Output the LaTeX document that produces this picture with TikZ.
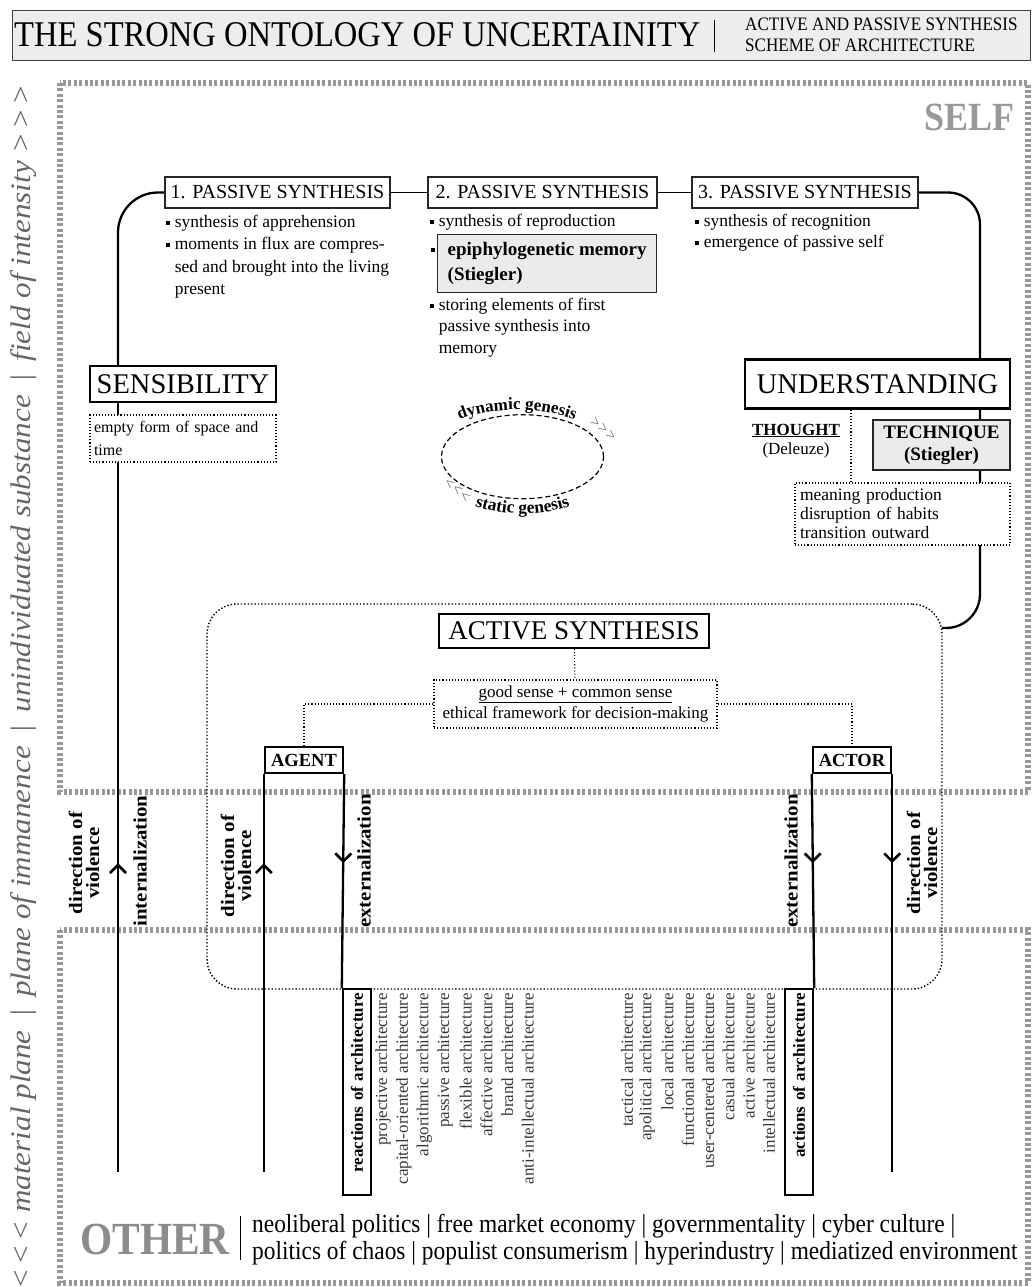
\documentclass[tikz,border=0pt]{standalone}
\usepackage{fontspec}
\setmainfont{Liberation Serif}
\newfontfamily\narrowserif{Liberation Serif}[FakeStretch=0.9]
\newfontfamily\tallserif{Liberation Serif}[FakeStretch=1.1]
\usetikzlibrary{arrows.meta,decorations.markings,decorations.text,calc,shapes.geometric}
\newcommand\fsz[2]{\fontsize{#1pt}{#2pt}\selectfont}
\newcommand\blt{\rule[0.12em]{0.24em}{0.24em}\hspace{0.25em}}
\newcommand\bltgap{\hspace*{0.49em}}
\pgfdeclarelayer{frames}
\pgfdeclarelayer{links}
\pgfsetlayers{frames,links,main}

\begin{document}
\begin{tikzpicture}[x=1pt,y=-1pt,
  frameline/.style={draw=black!40, line width=6pt, dash pattern=on 3pt off 2.4pt},
  psbox/.style={draw=black!85, line width=1.1pt, minimum height=31pt, inner sep=2pt, font=\fsz{20}{22}},
  bigbox/.style={draw, line width=2.4pt, inner sep=2pt, font=\fsz{28.5}{30}},
  graybox/.style={draw=black!85, line width=1.3pt, fill=black!8},
  dotbox/.style={draw, dotted, line width=1.1pt, fill=white},
  dotlink/.style={dotted, line width=1.1pt},
  link/.style={line width=2.3pt},
  bulletlist/.style={anchor=north west, inner sep=0pt, align=left, font=\fsz{17.5}{22.5}},
  tabbox/.style={draw, line width=2.4pt, minimum width=78pt, minimum height=26pt, inner sep=0pt, font=\bfseries\fsz{18.5}{20}},
  listbox/.style={draw, line width=2.4pt, rotate=90, minimum width=206pt, minimum height=28pt, inner sep=3pt, text width=198pt, align=right, font=\bfseries\fsz{17}{17}},
  archlabel/.style={rotate=90, anchor=east, inner sep=0pt, font=\fsz{17}{17}, text=black!78},
  bandlabel/.style={rotate=90, inner sep=0pt, align=center, font=\tallserif\bfseries\fsz{19}{17}},
  uparrow/.style={postaction={decorate, decoration={markings, mark=at position #1 with {\arrowreversed{Straight Barb[length=8pt,width=16pt,line width=2.6pt]}}}}},
  downarrow/.style={postaction={decorate, decoration={markings, mark=at position #1 with {\arrow{Straight Barb[length=8pt,width=16pt,line width=2.6pt]}}}}}
]
\useasboundingbox (0,0) rectangle (1032,1287);

% ---------- header ----------
\node[draw=black!75, line width=1.4pt, fill=black!7, minimum width=1018pt, minimum height=50pt, inner sep=0pt, anchor=north west] (header) at (12,10) {};
\node[anchor=base west, inner sep=0pt, font=\narrowserif\fsz{36.2}{36}] (title) at (14,47) {THE STRONG ONTOLOGY OF UNCERTAINITY};
\draw[line width=1pt] (714,20) -- (714,52);
\node[anchor=west, inner sep=0pt, align=left, font=\narrowserif\fsz{19}{20.5}] (subtitle) at (745,35) {ACTIVE AND PASSIVE SYNTHESIS\\SCHEME OF ARCHITECTURE};

% ---------- side axis ----------
\node[rotate=90, anchor=east, inner sep=0pt, font=\tallserif\itshape\fsz{28.3}{28}, text=black!60] (axis) at (24,84)
  {<\kern3pt<\kern3pt< material plane \,|\, plane of immanence \,|\, unindividuated substance \,|\, field of intensity >\kern3pt>\kern3pt>};

% ---------- planes ----------
\begin{pgfonlayer}{frames}
\draw[frameline] (60,83) rectangle (1028,792);
\draw[frameline] (60,930) rectangle (1028,1283);
\end{pgfonlayer}
\node[anchor=base east, inner sep=0pt, font=\narrowserif\bfseries\fsz{40}{40}, text=black!40] (self) at (1015,131) {SELF};
\node[anchor=base west, inner sep=0pt, font=\narrowserif\bfseries\fsz{46}{46}, text=black!45] (other) at (80,1254) {OTHER};
\draw[line width=0.9pt] (240,1216) -- (240,1260);
\node[anchor=west, inner sep=0pt, align=left, font=\narrowserif\fsz{26}{27}] (othertext) at (252,1240)
  {neoliberal politics | free market economy | governmentality | cyber culture |\\politics of chaos | populist consumerism | hyperindustry | mediatized environment};

% ---------- passive syntheses ----------
\node[psbox, minimum width=225pt] (ps1) at (277.5,192.5) {1. PASSIVE SYNTHESIS};
\node[psbox, minimum width=229pt] (ps2) at (542.5,192.5) {2. PASSIVE SYNTHESIS};
\node[psbox, minimum width=226pt] (ps3) at (805,192.5) {3. PASSIVE SYNTHESIS};

\node[bulletlist] (b1) at (166,214.5) {\blt synthesis of apprehension\\ \blt moments in flux are compres-\\ \bltgap sed and brought into the living\\ \bltgap present};
\node[bulletlist] (b2a) at (430,213.5) {\blt synthesis of reproduction};
\node[graybox, minimum width=219pt, minimum height=58pt, inner sep=0pt, anchor=north west, align=left, font=\bfseries\fsz{19}{25}] (epi) at (437,234) {epiphylogenetic memory\\(Stiegler)};
\node[inner sep=0pt, anchor=base west, font=\fsz{17.5}{17.5}] (epibullet) at (430.5,254) {\blt};
\node[bulletlist, font=\fsz{17.5}{21.5}] (b2b) at (430,297.5) {\blt storing elements of first\\ \bltgap passive synthesis into\\ \bltgap memory};
\node[bulletlist, font=\fsz{17.5}{21.5}] (b3) at (695,213.5) {\blt synthesis of recognition\\ \blt emergence of passive self};

% ---------- sensibility / understanding ----------
\node[bigbox, minimum width=186pt, minimum height=36pt] (sens) at (183,384) {SENSIBILITY};
\node[dotbox, minimum width=186pt, minimum height=47pt, inner sep=3pt, text width=178pt, align=left, font=\fsz{16}{23}] (space) at (183,438.5) {empty form of space and\\time};

\node[bigbox, minimum width=265pt, minimum height=49pt] (und) at (877.5,384) {UNDERSTANDING};
\node[inner sep=0pt, align=center, font=\fsz{17}{19.5}] (thought) at (796,441) {\textbf{\underline{THOUGHT}}\\(Deleuze)};
\node[graybox, minimum width=137pt, minimum height=50pt, inner sep=0pt, align=center, font=\bfseries\fsz{19}{22}] (tech) at (941.5,445) {TECHNIQUE\\(Stiegler)};
\node[dotbox, minimum width=215pt, minimum height=62pt, inner sep=5pt, text width=205pt, align=left, font=\fsz{17.5}{19}] (meaning) at (902.5,514) {meaning production\\disruption of habits\\transition outward};

% ---------- genesis cycle ----------
\node[draw, ellipse, dash pattern=on 5pt off 3pt, line width=1.2pt, minimum width=162pt, minimum height=84pt, inner sep=0pt] (genesis) at (522.5,456.7) {};
\path[decorate, decoration={text along path, text align=center, text={|\bfseries\fsz{17}{17}|dynamic genesis}}]
  (517,456.7) ++(212:92 and 47) arc[start angle=212, end angle=328, x radius=92, y radius=47];
\path[decorate, decoration={text along path, text align=center, text={|\bfseries\fsz{17.5}{17.5}|static genesis}}]
  (522.5,456.7) ++(145:95 and 57) arc[start angle=145, end angle=35, x radius=95, y radius=57];
\node[rotate=-40, inner sep=0pt, font=\fsz{16}{16}, text=black!60] (dynarrows) at (603,429) {>\kern1pt>\kern1pt>};
\node[rotate=-40, inner sep=0pt, font=\fsz{16}{16}, text=black!60] (statarrows) at (457,490) {<\kern1pt<\kern1pt<};

% ---------- active synthesis ----------
\node[draw, dotted, line width=1.4pt, rounded corners=30pt, minimum width=735pt, minimum height=385pt, inner sep=0pt] (actframe) at (574.5,796.5) {};
\node[draw, line width=1.4pt, fill=white, minimum width=270pt, minimum height=34pt, inner sep=0pt, font=\fsz{27}{28}] (active) at (574,631) {ACTIVE SYNTHESIS};
\node[dotbox, minimum width=283pt, minimum height=48pt, inner sep=0pt, align=center, font=\fsz{17}{21}] (sense) at (575.5,704) {\underline{good sense + common sense}\\ethical framework for decision-making};
\node[tabbox, fill=white] (agent) at (304,760) {AGENT};
\node[tabbox, fill=white] (actor) at (852,760) {ACTOR};

% ---------- band labels ----------
\node[bandlabel] (dv1) at (84,863) {direction of\\violence};
\node[bandlabel] (int) at (140,861) {internalization};
\node[bandlabel] (dv2) at (236,866) {direction of\\violence};
\node[bandlabel] (ext1) at (364,861) {externalization};
\node[bandlabel] (ext2) at (791,861) {externalization};
\node[bandlabel] (dv3) at (922,863) {direction of\\violence};

% ---------- architecture lists ----------
\node[listbox] (reactions) at (357,1092) {reactions of architecture};
\node[listbox] (actions) at (799,1092) {actions of architecture};
\foreach \t [count=\i] in {projective architecture, capital-oriented architecture, algorithmic architecture, passive architecture, flexible architecture, affective architecture, brand architecture, anti-intellectual architecture}
  \node[archlabel] (ra\i) at ({383+20.7*(\i-1)},993) {\t};
\foreach \t [count=\i] in {tactical architecture, apolitical architecture, local architecture, functional architecture, user-centered architecture, casual architecture, active architecture, intellectual architecture}
  \node[archlabel] (aa\i) at ({627+20.3*(\i-1)},993) {\t};

% ---------- connectors ----------
\begin{pgfonlayer}{links}
\coordinate (lcorner) at (118,192.5);
\coordinate (rcorner) at (980,192.5);
\coordinate (rjoin) at (942,628);
\coordinate (lend) at (0,1172);
\coordinate (dline) at (851,0);
\draw[link, line width=1.8pt] (ps1) -- (ps2);
\draw[link, line width=1.8pt] (ps2) -- (ps3);
\draw[link, rounded corners=40pt] (ps1.west) -- (lcorner) -- (lcorner |- sens.north);
\draw[link, rounded corners=32pt] (ps3.east) -- (rcorner) -- (rcorner |- und.north);
\draw[link, uparrow=460pt] (lcorner |- sens.south) -- (lcorner |- lend);
\draw[link, rounded corners=34pt] (rcorner |- und.south) -- (rcorner |- rjoin) -- (rjoin);
\draw[dotlink] (und.south -| dline) -- (dline |- meaning.north);
\draw[dotlink] (active) -- (sense);
\draw[dotlink] (sense.west) -| (agent.north);
\draw[dotlink] (sense.east) -| (actor.north);
\draw[link, uparrow=89pt] (agent.south west) -- (agent.south west |- lend);
\draw[link, downarrow=89pt] (agent.south east) -- (reactions.north east);
\draw[link, downarrow=89pt] (actor.south west) -- (actions.south east);
\draw[link, downarrow=89pt] (actor.south east) -- (actor.south east |- lend);
\end{pgfonlayer}
\end{tikzpicture}
\end{document}
